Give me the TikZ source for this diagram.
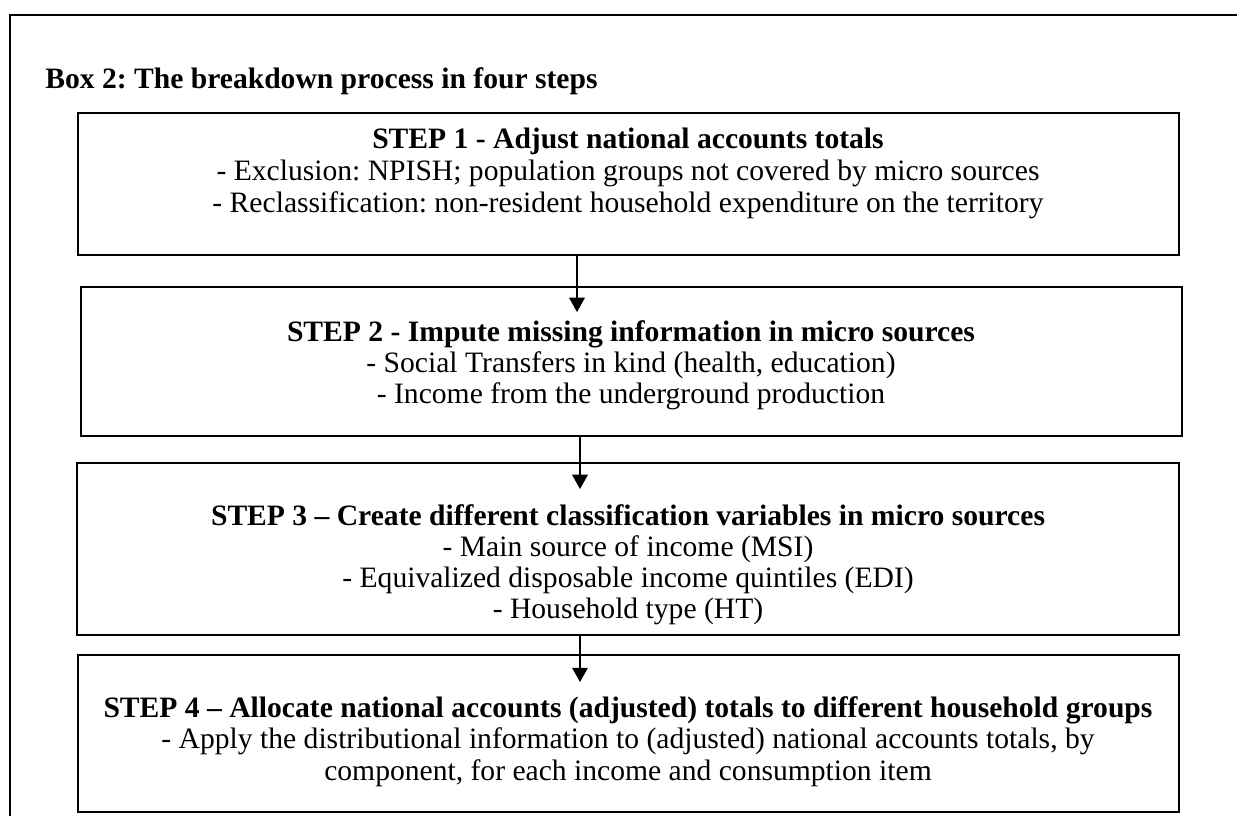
\documentclass[tikz,border=0pt]{standalone}
\usepackage{fontspec}
\setmainfont{Liberation Serif}
\usetikzlibrary{arrows.meta}
\frenchspacing
\begin{document}
\begin{tikzpicture}[x=0.75pt,y=-0.75pt,
  frame/.style={line width=1.5pt},
  stepbox/.style={draw,line width=1.5pt,inner sep=0pt},
  ln/.style={anchor=base,inner sep=0pt,font=\fontsize{22.2}{26}\selectfont},
  hd/.style={anchor=base,inner sep=0pt,font=\fontsize{22.2}{26}\selectfont\bfseries},
  arr/.style={line width=1.2pt,-{Triangle[width=11.7pt,length=10.7pt]}}]
\useasboundingbox (0,0) rectangle (1237,815);
\fill[white] (0,0) rectangle (1237,815);
\draw[frame] (10,816) -- (10,15) -- (1238,15);
\node[anchor=base west,inner sep=0pt,font=\fontsize{22.2}{26}\selectfont\bfseries] (title) at (45,88) {Box 2: The breakdown process in four steps};
% boxes
\node[stepbox,minimum width=825.75pt,minimum height=106.5pt] (b1) at (628.5,184) {};
\node[stepbox,minimum width=825.75pt,minimum height=111.75pt] (b2) at (631.5,361.5) {};
\node[stepbox,minimum width=826.5pt,minimum height=129pt] (b3) at (628,549) {};
\node[stepbox,minimum width=825.75pt,minimum height=117.75pt] (b4) at (628.5,733.5) {};
% texts
\node[hd] (t1) at (628,148) {STEP 1 - Adjust national accounts totals};
\node[ln] (t1a) at (628,180) {- Exclusion: NPISH; population groups not covered by micro sources};
\node[ln] (t1b) at (628,212) {- Reclassification: non-resident household expenditure on the territory};
\node[hd] (t2) at (631,341) {STEP 2 - Impute missing information in micro sources};
\node[ln] (t2a) at (631,372) {- Social Transfers in kind (health, education)};
\node[ln] (t2b) at (631,403) {- Income from the underground production};
\node[hd] (t3) at (628,525) {STEP 3 – Create different classification variables in micro sources};
\node[ln] (t3a) at (628,556) {- Main source of income (MSI)};
\node[ln] (t3b) at (628,587) {- Equivalized disposable income quintiles (EDI)};
\node[ln] (t3c) at (628,618) {- Household type (HT)};
\node[hd] (t4) at (628,717) {STEP 4 – Allocate national accounts (adjusted) totals to different household groups};
\node[ln] (t4a) at (628,748) {- Apply the distributional information to (adjusted) national accounts totals, by};
\node[ln] (t4b) at (628,780) {component, for each income and consumption item};
% arrows
\coordinate (e1) at (577,312);
\coordinate (e2) at (580,489);
\coordinate (e3) at (580,682);
\draw[arr] (b1.south -| e1) -- (e1);
\draw[arr] (b2.south -| e2) -- (e2);
\draw[arr] (b3.south -| e3) -- (e3);
\end{tikzpicture}
\end{document}
